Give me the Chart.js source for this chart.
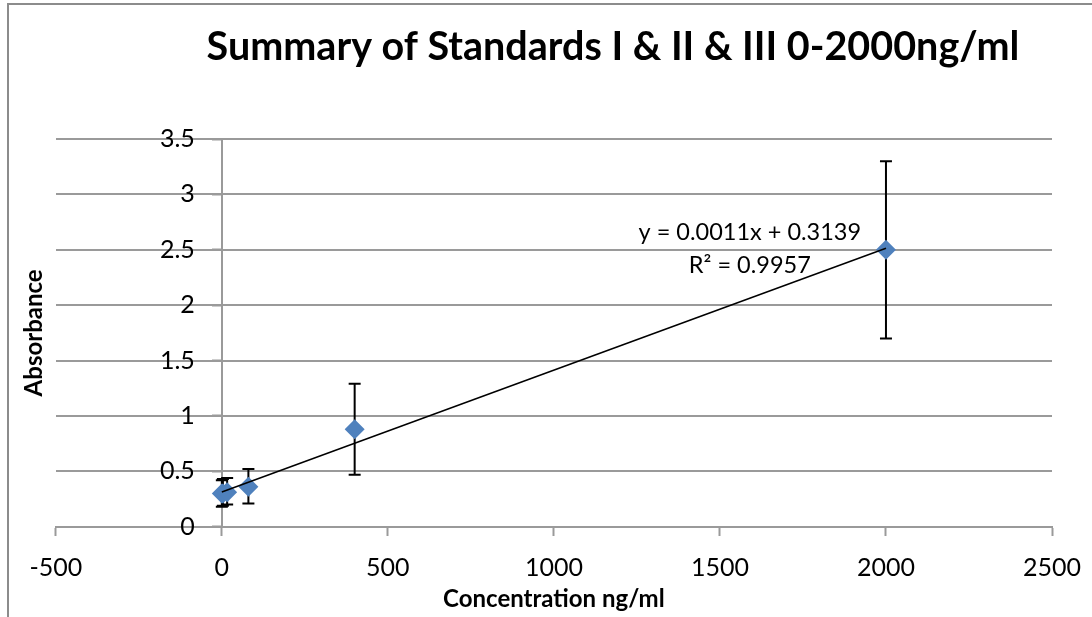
<!DOCTYPE html>
<html>
<head>
<meta charset="utf-8">
<script src="https://cdn.jsdelivr.net/npm/chart.js@4/dist/chart.umd.min.js"></script>
<style>
  html, body { margin: 0; padding: 0; background: #fff; overflow: hidden; }
  #wrap { position: relative; width: 1092px; height: 617px; }
  #frame {
    position: absolute; left: 7px; top: 3px; width: 1200px; height: 800px;
    border-left: 2px solid #8c8c8c; border-top: 2px solid #8c8c8c;
  }
  canvas { position: absolute; left: 0; top: 0; }
</style>
</head>
<body>
<div id="wrap">
  <div id="frame"></div>
  <canvas id="grafico" width="1092" height="617"></canvas>
</div>
<script>
// ===== DADOS =====
const concentracao = [0, 3.2, 16, 80, 400, 2000];
const absorbancia  = [0.30, 0.30, 0.31, 0.36, 0.88, 2.50];
const erroMin      = [0.18, 0.19, 0.20, 0.21, 0.47, 1.70];
const erroMax      = [0.42, 0.43, 0.44, 0.52, 1.29, 3.30];

// linha de tendência (Excel)
const inclinacao = 0.0011;
const intercepto = 0.3139;
const tendenciaX = [0, 2000];
const textoEquacao = ['y = 0.0011x + 0.3139', 'R² = 0.9957'];

const titulo = 'Summary of Standards I & II & III 0-2000ng/ml';
const tituloX = 'Concentration ng/ml';
const tituloY = 'Absorbance';

const FONTE = 'Lato, "Open Sans", sans-serif';
const CINZA = '#9a9a9a';

// ===== PLUGINS =====
const barrasErro = {
  id: 'barrasErro',
  beforeDatasetDraw(chart, args) {
    if (args.index !== 1) return;
    const { ctx, scales: { x, y } } = chart;
    ctx.save();
    ctx.strokeStyle = '#000';
    ctx.lineWidth = 2;
    concentracao.forEach((c, i) => {
      const px = x.getPixelForValue(c);
      const y1 = y.getPixelForValue(erroMin[i]);
      const y2 = y.getPixelForValue(erroMax[i]);
      ctx.beginPath();
      ctx.moveTo(px, y1); ctx.lineTo(px, y2);
      ctx.moveTo(px - 6, y1); ctx.lineTo(px + 6, y1);
      ctx.moveTo(px - 6, y2); ctx.lineTo(px + 6, y2);
      ctx.stroke();
    });
    ctx.restore();
  }
};

// rótulos do eixo Y (eixo cruzando em x = 0)
const rotulosY = {
  id: 'rotulosY',
  afterDraw(chart) {
    const { ctx, scales: { x, y2 } } = chart;
    const x0 = x.getPixelForValue(0);
    ctx.save();
    ctx.fillStyle = '#000';
    ctx.font = '25px ' + FONTE;
    ctx.textAlign = 'right';
    ctx.textBaseline = 'middle';
    y2.ticks.forEach(t => {
      ctx.fillText(String(t.value), x0 - 27, y2.getPixelForValue(t.value));
    });
    ctx.restore();
  }
};

const textos = {
  id: 'textos',
  afterDraw(chart) {
    const { ctx, scales: { x, y } } = chart;
    ctx.save();
    ctx.fillStyle = '#000';
    ctx.textAlign = 'center';
    ctx.textBaseline = 'middle';
    ctx.font = 'bold 39.5px ' + FONTE;
    ctx.fillText(titulo, 613, 47);

    ctx.font = '23.5px ' + FONTE;
    const ex = x.getPixelForValue(1590);
    ctx.fillText(textoEquacao[0], ex, y.getPixelForValue(2.66));
    ctx.fillText(textoEquacao[1], ex, y.getPixelForValue(2.36));
    ctx.restore();
  }
};

// ===== GRÁFICO =====
const ctx = document.getElementById('grafico').getContext('2d');
new Chart(ctx, {
  type: 'scatter',
  data: {
    datasets: [
      {
        label: 'Tendência',
        type: 'line',
        data: tendenciaX.map(v => ({ x: v, y: inclinacao * v + intercepto })),
        borderColor: '#000',
        borderWidth: 1.5,
        pointRadius: 0,
        fill: false,
        order: 0
      },
      {
        label: 'Padrões',
        data: concentracao.map((c, i) => ({ x: c, y: absorbancia[i] })),
        pointStyle: 'rectRot',
        pointRadius: 10,
        pointHoverRadius: 10,
        backgroundColor: '#4F81BD',
        borderColor: '#4F81BD',
        borderWidth: 0,
        order: 1
      }
    ]
  },
  options: {
    responsive: false,
    animation: false,
    layout: { padding: { left: 20, right: 40, top: 139, bottom: 3 } },
    plugins: {
      legend: { display: false },
      tooltip: { enabled: false },
      title: { display: false }
    },
    scales: {
      x: {
        type: 'linear',
        position: 'bottom',
        min: -500, max: 2500,
        ticks: { stepSize: 500, color: '#000', font: { family: FONTE, size: 25 }, padding: 0, callback: v => String(v) },
        grid: { drawOnChartArea: false, drawTicks: true, tickLength: 26, tickBorderDash: [8, 100], color: CINZA, tickWidth: 2 },
        border: { display: true, color: CINZA, width: 2 },
        title: { display: true, text: tituloX, color: '#000', font: { family: FONTE, size: 24, weight: 'bold' }, padding: { top: 2.5, bottom: 0 } }
      },
      y: {
        type: 'linear',
        position: 'left',
        min: 0, max: 3.5,
        ticks: { display: false, stepSize: 0.5 },
        grid: { drawOnChartArea: true, drawTicks: false, color: CINZA, lineWidth: 2 },
        border: { display: false },
        title: { display: true, text: tituloY, color: '#000', font: { family: FONTE, size: 24, weight: 'bold' }, padding: { top: 0, bottom: 7 } }
      },
      y2: {
        type: 'linear',
        position: { x: 0 },
        min: 0, max: 3.5,
        ticks: { display: false, stepSize: 0.5 },
        grid: { drawOnChartArea: false, drawTicks: true, tickLength: 9, color: CINZA, tickWidth: 2 },
        border: { display: true, color: CINZA, width: 2 }
      }
    }
  },
  plugins: [barrasErro, rotulosY, textos]
});
</script>
</body>
</html>
